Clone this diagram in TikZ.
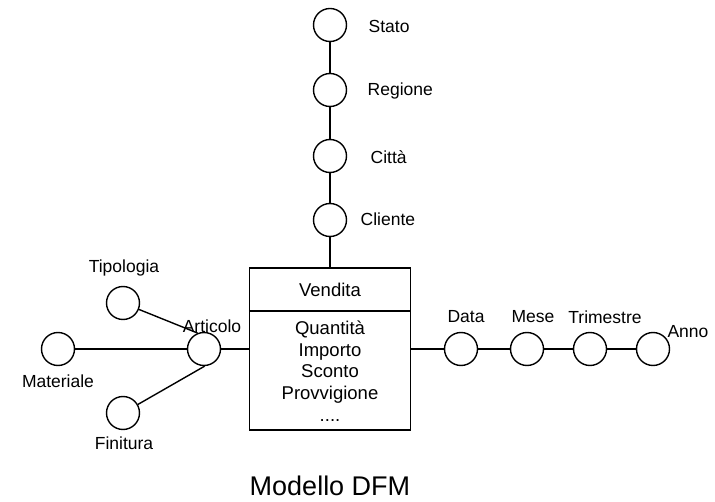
\documentclass[tikz,border=0pt]{standalone}
\usepackage{fontspec}
\setmainfont{Liberation Sans}

\begin{document}
\begin{tikzpicture}[x=1pt,y=-1pt,line width=1.4pt,
    attr/.style={draw, circle, minimum size=33, inner sep=0pt},
    etich/.style={font=\fontsize{17.5}{21.5}\selectfont, inner sep=1pt}]
    \useasboundingbox (0,0) rectangle (715,502);
    % fatto: rettangolo con nome e misure
    \node[draw, minimum width=161, minimum height=162, inner sep=0pt] (vendita) at (330,349) {};
    \draw (vendita.west |- 0,311) -- (vendita.east |- 0,311);
    \node[etich, font=\fontsize{18.5}{21.7}\selectfont] (nome) at (330,290) {Vendita};
    \node[etich, font=\fontsize{18.5}{21.7}\selectfont, align=center] (misure) at (330,371) {Quantità\\Importo\\Sconto\\Provvigione\\....};
    % gerarchia cliente
    \node[attr] (stato) at (330,25) {};
    \node[attr] (regione) at (330,90) {};
    \node[attr] (citta) at (330,156) {};
    \node[attr] (cliente) at (330,220) {};
    \node[etich, anchor=west] (lstato) at (367,26) {Stato};
    \node[etich, anchor=west] (lregione) at (366,91) {Regione};
    \node[etich, anchor=west] (lcitta) at (369,157) {Città};
    \node[etich, anchor=west] (lcliente) at (359,219) {Cliente};
    \draw (stato) -- (regione) -- (citta) -- (cliente) -- (vendita);
    % gerarchia articolo
    \node[attr] (articolo) at (204,349) {};
    \node[attr] (materiale) at (58,349) {};
    \node[attr] (tipologia) at (123,303) {};
    \node[attr] (finitura) at (123,413) {};
    \node[etich] (larticolo) at (212,326) {Articolo};
    \node[etich] (lmateriale) at (58,381) {Materiale};
    \node[etich] (ltipologia) at (124,268) {Tipologia};
    \node[etich] (lfinitura) at (124,443) {Finitura};
    \draw (materiale) -- (articolo) -- (vendita);
    \draw (tipologia) -- (articolo.112);
    \draw (finitura) -- (articolo.-88);
    % gerarchia data
    \node[attr] (data) at (461,349) {};
    \node[attr] (mese) at (527,349) {};
    \node[attr] (trimestre) at (590,349) {};
    \node[attr] (anno) at (653,349) {};
    \node[etich] (ldata) at (466,317) {Data};
    \node[etich] (lmese) at (533,317) {Mese};
    \node[etich] (ltrimestre) at (605,317) {Trimestre};
    \node[etich] (lanno) at (688,332) {Anno};
    \draw (vendita) -- (data) -- (mese) -- (trimestre) -- (anno);
    % titolo
    \node[font=\fontsize{27}{32}\selectfont] (titolo) at (330,486) {Modello DFM};
\end{tikzpicture}
\end{document}
